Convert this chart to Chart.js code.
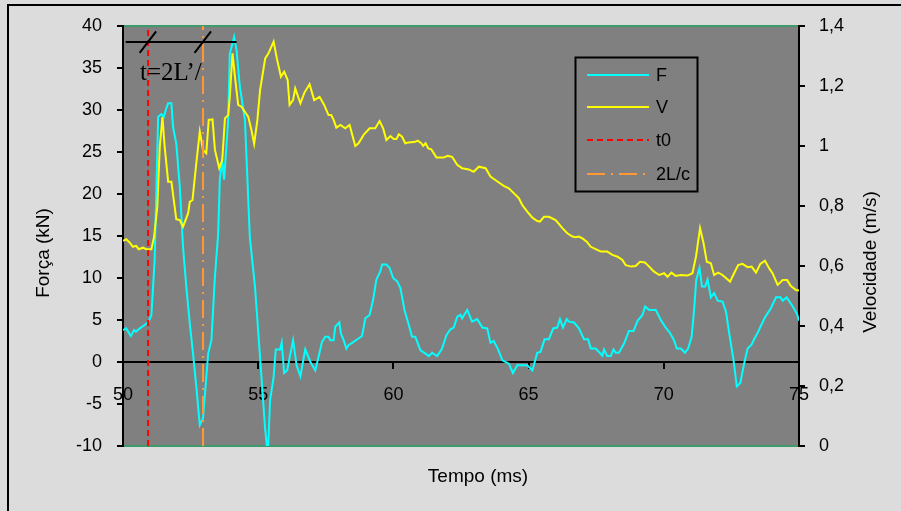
<!DOCTYPE html>
<html>
<head>
<meta charset="utf-8">
<script src="https://cdn.jsdelivr.net/npm/chart.js@4.4.1/dist/chart.umd.min.js"></script>
<style>
  html, body { margin: 0; padding: 0; background: #dcdcdc; }
  #wrap { position: relative; width: 901px; height: 511px; }
</style>
</head>
<body>
<div id="wrap"><canvas id="forceChart" width="901" height="511"></canvas></div>
<script>
// Force F (kN) vs time (ms)
const fTime = [50.00, 50.12, 50.29, 50.41, 50.48, 50.62, 50.80, 50.95, 51.05, 51.17, 51.30, 51.42, 51.51, 51.60, 51.67, 51.79, 51.85, 51.97, 52.10, 52.22, 52.34, 52.47, 52.59, 52.71, 52.84, 52.96, 53.15, 53.27, 53.40, 53.52, 53.58, 53.67, 53.74, 53.89, 53.95, 54.11, 54.20, 54.32, 54.51, 54.69, 54.88, 55.06, 55.25, 55.32, 55.37, 55.44, 55.57, 55.65, 55.81, 55.87, 55.96, 56.07, 56.29, 56.42, 56.56, 56.74, 56.93, 57.11, 57.23, 57.36, 57.48, 57.60, 57.67, 57.79, 57.85, 58.00, 58.06, 58.16, 58.26, 58.34, 58.53, 58.71, 58.84, 58.96, 59.12, 59.25, 59.37, 59.52, 59.58, 59.74, 59.86, 59.99, 60.14, 60.26, 60.41, 60.57, 60.69, 60.81, 61.00, 61.19, 61.31, 61.43, 61.62, 61.80, 61.96, 62.11, 62.23, 62.36, 62.48, 62.54, 62.73, 62.91, 63.10, 63.29, 63.47, 63.59, 63.71, 63.86, 64.03, 64.27, 64.42, 64.58, 64.95, 65.14, 65.32, 65.44, 65.59, 65.75, 65.91, 66.06, 66.16, 66.27, 66.41, 66.49, 66.68, 66.86, 67.05, 67.20, 67.30, 67.48, 67.73, 67.79, 67.91, 68.04, 68.14, 68.22, 68.34, 68.53, 68.71, 68.88, 69.03, 69.21, 69.31, 69.46, 69.70, 69.89, 70.07, 70.20, 70.38, 70.48, 70.63, 70.78, 70.90, 71.03, 71.12, 71.20, 71.32, 71.41, 71.53, 71.62, 71.74, 71.86, 71.99, 72.17, 72.30, 72.42, 72.58, 72.70, 72.83, 72.97, 73.10, 73.25, 73.34, 73.49, 73.59, 73.74, 73.96, 74.15, 74.31, 74.40, 74.54, 74.77, 74.93, 75.00];
const fValues = [3.8, 4.0, 3.1, 3.8, 3.6, 4.0, 4.4, 4.8, 5.6, 12.1, 29.2, 29.5, 29.2, 30.2, 30.8, 30.8, 28.0, 26.0, 20.9, 13.7, 9.0, 4.6, 1.0, -2.9, -7.5, -6.7, 1.0, 2.6, 10.2, 15.3, 21.7, 24.0, 21.7, 28.8, 36.7, 38.7, 37.1, 32.8, 28.8, 14.9, 9.0, 1.0, -7.7, -10.0, -10.0, -4.5, -1.8, 1.5, 1.5, 2.3, -1.3, -1.0, 2.6, -0.4, -1.7, 1.5, 0.0, -1.0, 0.6, 2.4, 3.0, 3.0, 2.6, 2.6, 4.2, 4.7, 3.4, 2.6, 1.6, 2.0, 2.4, 2.8, 3.1, 5.2, 5.6, 7.4, 9.8, 10.8, 11.6, 11.6, 11.2, 10.0, 9.6, 8.8, 6.2, 4.4, 3.0, 3.0, 1.4, 1.0, 0.7, 1.1, 0.7, 1.6, 3.2, 3.9, 4.1, 5.4, 5.6, 5.2, 6.2, 4.8, 5.1, 4.1, 4.0, 2.3, 2.5, 1.6, 0.2, -0.2, -1.3, -0.4, -0.4, -1.0, 1.1, 1.2, 2.7, 2.7, 4.0, 4.1, 5.1, 4.1, 5.1, 4.8, 4.7, 4.0, 2.7, 2.7, 1.6, 1.6, 0.75, 1.5, 0.7, 0.7, 1.5, 1.1, 1.1, 2.2, 3.7, 3.7, 4.9, 5.6, 6.6, 6.2, 6.2, 5.0, 4.1, 3.6, 2.6, 1.6, 1.6, 1.1, 1.6, 3.0, 6.2, 9.8, 11.2, 9.0, 9.0, 9.8, 7.7, 8.2, 7.3, 7.2, 6.0, 3.4, 0.2, -2.9, -2.5, -0.2, 1.6, 2.1, 2.7, 3.6, 4.3, 5.3, 6.4, 7.7, 7.7, 7.3, 7.7, 6.6, 5.7, 4.9];

// Velocity V (m/s) vs time (ms)
const vTime = [50.00, 50.12, 50.25, 50.37, 50.49, 50.58, 50.74, 50.86, 51.05, 51.15, 51.27, 51.36, 51.46, 51.54, 51.67, 51.79, 51.97, 52.10, 52.22, 52.41, 52.47, 52.57, 52.71, 52.84, 52.96, 53.08, 53.17, 53.31, 53.40, 53.56, 53.67, 53.77, 53.89, 53.95, 54.05, 54.14, 54.26, 54.38, 54.63, 54.75, 54.85, 54.97, 55.07, 55.26, 55.38, 55.57, 55.69, 55.84, 55.96, 56.09, 56.16, 56.29, 56.37, 56.56, 56.71, 56.90, 57.07, 57.27, 57.44, 57.60, 57.70, 57.79, 57.89, 58.04, 58.22, 58.38, 58.59, 58.71, 58.90, 59.12, 59.33, 59.49, 59.62, 59.74, 59.89, 60.01, 60.11, 60.20, 60.32, 60.44, 60.57, 60.81, 60.90, 61.03, 61.10, 61.19, 61.29, 61.40, 61.59, 61.86, 62.01, 62.17, 62.36, 62.54, 62.79, 62.97, 63.16, 63.41, 63.59, 63.86, 64.08, 64.27, 64.46, 64.64, 64.77, 64.95, 65.14, 65.32, 65.42, 65.57, 65.75, 66.00, 66.25, 66.43, 66.62, 66.74, 66.86, 66.99, 67.15, 67.30, 67.48, 67.67, 67.91, 68.10, 68.29, 68.47, 68.59, 68.80, 68.96, 69.12, 69.30, 69.46, 69.64, 69.83, 70.01, 70.14, 70.28, 70.44, 70.63, 70.88, 71.06, 71.19, 71.34, 71.47, 71.59, 71.74, 71.86, 72.01, 72.17, 72.45, 72.60, 72.75, 72.91, 73.10, 73.25, 73.41, 73.57, 73.74, 73.90, 74.02, 74.21, 74.40, 74.56, 74.70, 74.89, 75.00];
const vValues = [0.684, 0.689, 0.678, 0.664, 0.667, 0.656, 0.661, 0.656, 0.656, 0.698, 0.798, 0.998, 1.096, 0.998, 0.881, 0.881, 0.756, 0.753, 0.731, 0.776, 0.814, 0.820, 0.942, 1.048, 0.987, 0.976, 1.087, 1.089, 0.987, 0.926, 0.953, 1.092, 1.103, 1.164, 1.309, 1.231, 1.137, 1.131, 1.098, 1.053, 1.007, 1.087, 1.187, 1.292, 1.309, 1.348, 1.292, 1.231, 1.248, 1.220, 1.137, 1.153, 1.192, 1.142, 1.178, 1.206, 1.153, 1.164, 1.137, 1.103, 1.103, 1.087, 1.061, 1.070, 1.059, 1.070, 1.000, 1.009, 1.037, 1.059, 1.059, 1.083, 1.059, 1.020, 1.033, 1.023, 1.023, 1.039, 1.031, 1.009, 1.012, 1.014, 1.018, 1.009, 1.000, 1.009, 0.992, 0.989, 0.962, 0.962, 0.967, 0.964, 0.937, 0.926, 0.922, 0.914, 0.931, 0.926, 0.898, 0.881, 0.867, 0.859, 0.842, 0.826, 0.803, 0.781, 0.761, 0.750, 0.748, 0.764, 0.764, 0.753, 0.726, 0.709, 0.698, 0.696, 0.698, 0.692, 0.681, 0.664, 0.656, 0.648, 0.648, 0.637, 0.631, 0.620, 0.603, 0.598, 0.600, 0.614, 0.612, 0.598, 0.581, 0.570, 0.576, 0.564, 0.578, 0.567, 0.570, 0.568, 0.576, 0.631, 0.726, 0.676, 0.614, 0.609, 0.570, 0.578, 0.570, 0.548, 0.576, 0.603, 0.607, 0.596, 0.598, 0.578, 0.607, 0.618, 0.592, 0.576, 0.537, 0.553, 0.553, 0.533, 0.520, 0.518];

// Marker times (ms)
const t0Time = 50.93;
const reflTime = 52.96;

const seriesNames = ['F', 'V', 't0', '2L/c'];
const fontSans = 'Arial, "Liberation Sans", sans-serif';

const toPoints = (xs, ys) => xs.map((x, i) => ({ x: x, y: ys[i] }));

const decorations = {
  id: 'decorations',
  beforeDraw(chart) {
    const { ctx, chartArea: a } = chart;
    ctx.save();
    ctx.fillStyle = '#dcdcdc';
    ctx.fillRect(0, 0, chart.width, chart.height);
    // outer frame
    ctx.strokeStyle = '#000';
    ctx.lineWidth = 2;
    ctx.beginPath();
    ctx.moveTo(8, chart.height + 10);
    ctx.lineTo(8, 5);
    ctx.lineTo(chart.width + 10, 5);
    ctx.stroke();
    // plot area
    ctx.fillStyle = '#808080';
    ctx.fillRect(a.left, a.top, a.right - a.left, a.bottom - a.top);
    ctx.strokeStyle = '#3c9a6c';
    ctx.lineWidth = 2;
    ctx.beginPath();
    ctx.moveTo(a.left, a.top);
    ctx.lineTo(a.right, a.top);
    ctx.moveTo(a.left, a.bottom);
    ctx.lineTo(a.right, a.bottom);
    ctx.stroke();
    ctx.restore();
  },
  afterDraw(chart) {
    const { ctx } = chart;
    const xs = chart.scales.x, ys = chart.scales.y;
    ctx.save();

    // t = 2L'/ annotation
    const yl = ys.getPixelForValue(38.1);
    ctx.strokeStyle = '#000';
    ctx.lineWidth = 2;
    ctx.beginPath();
    ctx.moveTo(xs.getPixelForValue(50.1), yl);
    ctx.lineTo(xs.getPixelForValue(54.2), yl);
    [t0Time, reflTime].forEach(t => {
      const px = xs.getPixelForValue(t);
      ctx.moveTo(px - 8.5, yl + 11);
      ctx.lineTo(px + 8, yl - 10.5);
    });
    ctx.stroke();
    ctx.fillStyle = '#000';
    ctx.font = '25px "Liberation Serif", "Times New Roman", serif';
    ctx.textAlign = 'left';
    ctx.textBaseline = 'alphabetic';
    ctx.fillText('t=2L\u2019/', 140, 80);

    // legend box
    ctx.lineWidth = 2;
    ctx.strokeRect(575.5, 57.5, 122, 134);
    const rows = [75, 107, 140, 174];
    chart.data.datasets.forEach(ds => {
      const i = seriesNames.indexOf(ds.label);
      const y = rows[i];
      ctx.strokeStyle = ds.borderColor;
      ctx.lineWidth = 2;
      ctx.setLineDash(ds.borderDash || []);
      ctx.beginPath();
      ctx.moveTo(587, y);
      ctx.lineTo(649, y);
      ctx.stroke();
      ctx.setLineDash([]);
      ctx.fillStyle = '#000';
      ctx.font = '18px ' + fontSans;
      ctx.textBaseline = 'middle';
      ctx.fillText(ds.label, 656, y + 1);
    });

    // axis titles
    ctx.fillStyle = '#000';
    ctx.font = '19px ' + fontSans;
    ctx.textAlign = 'center';
    ctx.textBaseline = 'middle';
    ctx.fillText('Tempo (ms)', 478, 477);
    ctx.translate(44, 253);
    ctx.rotate(-Math.PI / 2);
    ctx.fillText('For\u00e7a (kN)', 0, 0);
    ctx.setTransform(1, 0, 0, 1, 0, 0);
    ctx.translate(871, 262);
    ctx.rotate(-Math.PI / 2);
    ctx.fillText('Velocidade (m/s)', 0, 0);
    ctx.restore();
  }
};

const tickFont = { family: fontSans, size: 18 };

new Chart(document.getElementById('forceChart'), {
  type: 'line',
  data: {
    datasets: [
      {
        label: 'F',
        data: toPoints(fTime, fValues),
        borderColor: '#00ffff',
        borderWidth: 2,
        yAxisID: 'y',
        order: 4
      },
      {
        label: 'V',
        data: toPoints(vTime, vValues),
        borderColor: '#ffff00',
        borderWidth: 2,
        yAxisID: 'y1',
        order: 3
      },
      {
        label: 't0',
        data: [{ x: t0Time, y: -10 }, { x: t0Time, y: 40 }],
        borderColor: '#ff0000',
        borderWidth: 2,
        borderDash: [6, 4],
        yAxisID: 'y',
        order: 2
      },
      {
        label: '2L/c',
        data: [{ x: reflTime, y: -10 }, { x: reflTime, y: 40 }],
        borderColor: '#ff9933',
        borderWidth: 2,
        borderDash: [18, 6, 2, 6],
        yAxisID: 'y',
        order: 1
      }
    ]
  },
  options: {
    responsive: false,
    animation: false,
    devicePixelRatio: 1,
    layout: { padding: { left: 0, right: 0, top: 26, bottom: 65 } },
    elements: {
      point: { radius: 0 },
      line: { tension: 0, fill: false }
    },
    plugins: {
      legend: { display: false },
      tooltip: { enabled: false }
    },
    scales: {
      x: {
        type: 'linear',
        position: { y: 0 },
        min: 50,
        max: 75,
        ticks: { stepSize: 5, color: '#000', font: tickFont, padding: 16, maxRotation: 0 },
        grid: { drawOnChartArea: false, drawTicks: true, tickLength: 6, color: '#000', lineWidth: 2 },
        border: { color: '#000', width: 2 }
      },
      y: {
        position: 'left',
        min: -10,
        max: 40,
        ticks: { stepSize: 5, color: '#000', font: tickFont, padding: 15 },
        grid: { drawOnChartArea: false, drawTicks: true, tickLength: 6, color: '#000', lineWidth: 2 },
        border: { color: '#000', width: 2 },
        afterFit(scale) { scale.width = 123; }
      },
      y1: {
        position: 'right',
        min: 0,
        max: 1.4,
        ticks: {
          stepSize: 0.2,
          color: '#000',
          font: tickFont,
          padding: 14,
          callback: v => String(Math.round(v * 10) / 10).replace('.', ',')
        },
        grid: { drawOnChartArea: false, drawTicks: true, tickLength: 6, color: '#000', lineWidth: 2 },
        border: { color: '#000', width: 2 },
        afterFit(scale) { scale.width = 102; }
      }
    }
  },
  plugins: [decorations]
});
</script>
</body>
</html>
